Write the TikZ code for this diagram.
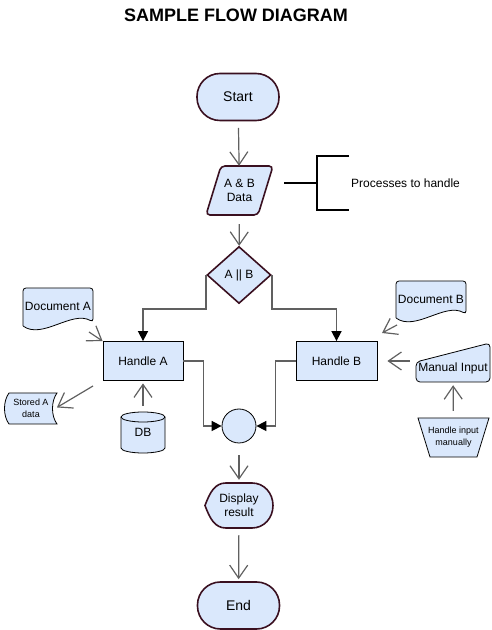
\documentclass[tikz,border=0pt]{standalone}
\usepackage{fontspec}
\setmainfont{Liberation Sans}
\usetikzlibrary{arrows.meta,shapes.geometric,positioning}
\definecolor{boxfill}{HTML}{DAE8FC}
\definecolor{termline}{HTML}{3A1020}
\definecolor{arrowgray}{HTML}{606060}

\begin{document}
\begin{tikzpicture}[x=1pt,y=1pt,
    txt/.style={inner sep=0pt,align=center,font=\fontsize{12}{14}\selectfont},
    smalltxt/.style={txt,font=\fontsize{9}{12}\selectfont},
    shapeline/.style={draw=black,fill=boxfill,line width=0.8pt},
    termline/.style={draw=termline,fill=boxfill,line width=1.6pt},
    box/.style={txt,shapeline},
    term/.style={txt,termline,rounded corners=23pt,minimum width=82pt,minimum height=47pt,font=\fontsize{14}{16}\selectfont},
    openarrow/.style={draw=arrowgray,line width=1.2pt,-{Straight Barb[length=13pt,width=18pt]}},
    flowline/.style={draw=arrowgray,line width=1.6pt,-{Triangle[length=10pt,width=10pt,color=black]}},
    bracketline/.style={draw=black,line width=1.6pt}]
    \useasboundingbox (0,0) rectangle (491,630);
    \node[font=\bfseries\fontsize{18}{20}\selectfont] (title) at (236,615) {SAMPLE FLOW DIAGRAM};

    % main column
    \node[term] (start) at (238,533) {Start};
    \draw[termline,rounded corners=4pt] (221,464) -- (273,464) -- (258,415) -- (206,415) -- cycle;
    \node[txt,minimum width=67pt,minimum height=49pt] (data) at (239.5,439.5) {A \& B\\Data};
    \node[txt,termline,diamond,aspect=1.12,minimum width=64pt,minimum height=57pt] (choice) at (239,355) {A || B};
    \node[box,minimum width=80pt,minimum height=39pt] (hA) at (143,269) {Handle A};
    \node[box,minimum width=81pt,minimum height=39pt] (hB) at (336.5,269) {Handle B};
    \node[box,circle,minimum size=34pt] (merge) at (239,204) {};
    \draw[termline] (205,124.5) .. controls (210,138) and (215,147) .. (226,147) -- (252,147)
        .. controls (264,147) and (273,137) .. (273,124.5) .. controls (273,112) and (264,102) .. (252,102)
        -- (226,102) .. controls (215,102) and (210,111) .. cycle;
    \node[txt,minimum width=68pt,minimum height=45pt] (show) at (239,124.5) {Display\\result};
    \node[term] (stop) at (238.5,24.5) {End};

    % note
    \coordinate (brace) at (317,447);
    \draw[bracketline] (brace) ++(-33,0) -- (brace) (brace) ++(32,27) -- ++(-32,0) -- ++(0,-54) -- ++(32,0);
    \node[txt,anchor=west] (note) at (351,447) {Processes to handle};

    % side shapes
    \draw[shapeline,rounded corners=3pt] (23,304) -- (23,342) -- (93,342) -- (93,308) [sharp corners]
        .. controls (72,320) and (42,290) .. (23,304);
    \node[txt,minimum width=70pt,minimum height=37pt] (docA) at (58,323.5) {Document A};
    \draw[shapeline,rounded corners=3pt] (396,312) -- (396,349) -- (466,349) -- (466,316) [sharp corners]
        .. controls (445,328) and (415,298) .. (396,312);
    \node[txt,minimum width=70pt,minimum height=36pt] (docB) at (431,331) {Document B};
    \draw[shapeline] (9,237) -- (57,237) .. controls (51,229) and (51,214) .. (57,206) -- (9,206)
        .. controls (3,214) and (3,229) .. cycle;
    \node[smalltxt,minimum width=48pt,minimum height=31pt] (storeA) at (31,221.5) {Stored A\\data};
    \draw[shapeline] (121,213) -- (121,182) arc[start angle=180,end angle=360,x radius=22,y radius=5]
        -- (165,213) arc[start angle=0,end angle=180,x radius=22,y radius=5] -- cycle;
    \draw[shapeline,fill=none] (121,213) arc[start angle=180,end angle=360,x radius=22,y radius=5];
    \node[txt,minimum width=44pt,minimum height=41pt] (db) at (143,197.5) {DB};
    \draw[shapeline,rounded corners=4pt] (416,248) -- (416,268) -- (490,287) -- (490,248) -- cycle;
    \node[txt,minimum width=74pt,minimum height=28pt] (manual) at (453,262) {Manual Input};
    \draw[shapeline] (418,212) -- (489,212) -- (477,173) -- (430,173) -- cycle;
    \node[smalltxt,minimum width=71pt,minimum height=39pt] (manop) at (453.5,192.5) {Handle input\\manually};

    % connectors
    \draw[openarrow,shorten <=6.5pt] (start) -- (data);
    \draw[openarrow,shorten <=9pt] (data) -- (choice);
    \draw[flowline] (choice.west) -- ++(0,-34) -| (hA.north);
    \draw[flowline] (choice.east) -- ++(0,-34) -| (hB.north);
    \draw[flowline] (hA.east) -- ++(20,0) |- (merge.west);
    \draw[flowline] (hB.west) -- ++(-20,0) |- (merge.east);
    \draw[openarrow,shorten <=12pt,shorten >=3pt] (merge) -- (show);
    \draw[openarrow,shorten <=7pt,shorten >=2pt] (show) -- (stop);
    \coordinate (docAout) at (89,298);
    \draw[openarrow] (docAout) -- (hA.north west);
    \coordinate (storeAin) at (93,244);
    \draw[openarrow,shorten >=2pt] (storeAin) -- (storeA.east);
    \draw[openarrow,shorten <=6pt,shorten >=2.5pt] (db) -- (hA);
    \coordinate (docBout) at (397,305);
    \coordinate (docBin) at (382,297);
    \draw[openarrow] (docBout) -- (docBin);
    \coordinate (manualout) at (410,269);
    \draw[openarrow,shorten >=10pt] (manualout) -- (hB.east);
    \draw[openarrow,shorten <=7pt,shorten >=3pt] (manop) -- (manual);
\end{tikzpicture}
\end{document}
